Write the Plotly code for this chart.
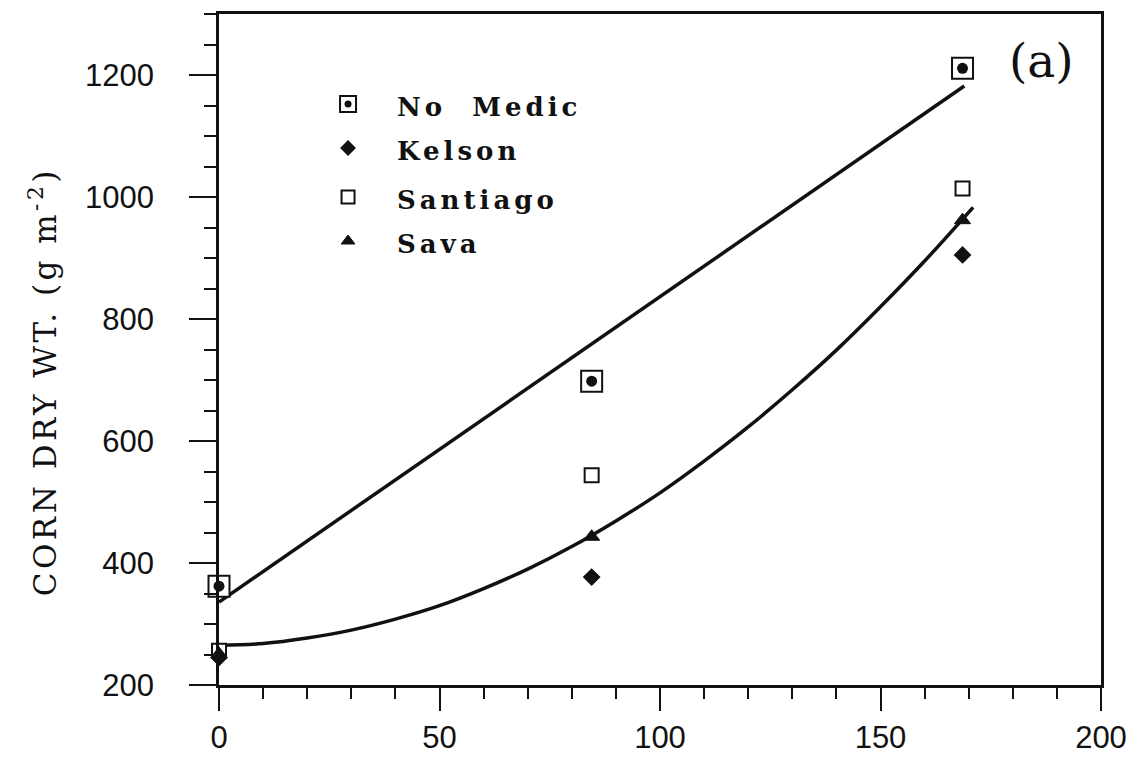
import plotly.graph_objects as go

# ---------------- data ----------------
N_RATE = [0, 84.5, 168.6]
NO_MEDIC = [362, 698, 1211]
KELSON = [245, 377, 905]
SANTIAGO = [256, 544, 1014]
SAVA = [251, 443, 962]

UPPER_FIT_X = [0, 84, 169]
UPPER_FIT_Y = [336, 756, 1182]
LOWER_FIT_X = [0, 10, 20, 30, 40, 50, 60, 70, 80, 90, 100, 110, 120, 130, 140, 150, 160, 171]
LOWER_FIT_Y = [265, 268, 277, 290, 308, 330, 358, 390, 427, 469, 515, 567, 623, 684, 749, 820, 895, 983]

SERIES_NAMES = ["No Medic", "Kelson", "Santiago", "Sava"]
X_TICKS = [0, 50, 100, 150, 200]
Y_TICKS = [200, 400, 600, 800, 1000, 1200]
Y_TITLE = "CORN DRY WT. (g m<sup>-2</sup>)"
PANEL_LABEL = "(a)"

INK = "#111111"

fig = go.Figure()

# fitted curves
fig.add_trace(go.Scatter(x=UPPER_FIT_X, y=UPPER_FIT_Y, mode="lines",
                         line=dict(color=INK, width=3.5), showlegend=False))
fig.add_trace(go.Scatter(x=LOWER_FIT_X, y=LOWER_FIT_Y, mode="lines",
                         line=dict(color=INK, width=3.5, shape="spline"), showlegend=False))

# data markers
fig.add_trace(go.Scatter(x=N_RATE, y=SANTIAGO, mode="markers", cliponaxis=False,
                         marker=dict(symbol="square", size=14, color="white",
                                     line=dict(color=INK, width=2)), showlegend=False))
fig.add_trace(go.Scatter(x=N_RATE, y=SAVA, mode="markers", cliponaxis=False,
                         marker=dict(symbol="triangle-up", size=14, color=INK,
                                     line=dict(color=INK, width=1)), showlegend=False))
fig.add_trace(go.Scatter(x=N_RATE, y=KELSON, mode="markers", cliponaxis=False,
                         marker=dict(symbol="diamond", size=11.5, color=INK,
                                     line=dict(color=INK, width=2)), showlegend=False))
fig.add_trace(go.Scatter(x=N_RATE, y=NO_MEDIC, mode="markers", cliponaxis=False,
                         marker=dict(symbol="square", size=21, color="white",
                                     line=dict(color=INK, width=2)), showlegend=False))
fig.add_trace(go.Scatter(x=N_RATE, y=NO_MEDIC, mode="markers", cliponaxis=False,
                         marker=dict(symbol="circle", size=11, color=INK,
                                     line=dict(width=0)), showlegend=False))

# ---------------- hand-built legend (overlay axes in plot-fraction units) ----------------
LEG_X = 0.1463
LEG_Y = [0.8659, 0.8003, 0.7273, 0.6617]
LEG_TEXT_X = 0.199
legend_styles = [
    dict(symbol="square", size=16, color="white", line=dict(color=INK, width=2)),
    dict(symbol="diamond", size=10, color=INK, line=dict(color=INK, width=2)),
    dict(symbol="square", size=13, color="white", line=dict(color=INK, width=2)),
    dict(symbol="triangle-up", size=12, color=INK, line=dict(color=INK, width=1)),
]
for i, st in enumerate(legend_styles):
    fig.add_trace(go.Scatter(x=[LEG_X], y=[LEG_Y[i]], xaxis="x2", yaxis="y2",
                             mode="markers", marker=st, showlegend=False, cliponaxis=False))
fig.add_trace(go.Scatter(x=[LEG_X], y=[LEG_Y[0]], xaxis="x2", yaxis="y2",
                         mode="markers", marker=dict(symbol="circle", size=7, color=INK),
                         showlegend=False))

annotations = []
for i, name in enumerate(SERIES_NAMES):
    annotations.append(dict(
        text='<span style="letter-spacing:4px">' + name.replace(" ", "&nbsp; ") + "</span>",
        xref="x2", yref="y2", x=LEG_TEXT_X, y=LEG_Y[i] - 0.004,
        xanchor="left", yanchor="middle", showarrow=False,
        font=dict(family="DejaVu Serif", size=26, color=INK, weight="bold")))
annotations.append(dict(
    text=PANEL_LABEL, xref="x2", yref="y2", x=0.932, y=0.93,
    xanchor="center", yanchor="middle", showarrow=False,
    font=dict(family="DejaVu Serif", size=47, color=INK)))
annotations.append(dict(
    text='<span style="letter-spacing:3.5px">' + Y_TITLE + "</span>",
    xref="paper", yref="paper", x=-0.2, y=0.452, textangle=-90,
    xanchor="center", yanchor="middle", showarrow=False,
    font=dict(family="DejaVu Serif", size=31, color=INK)))

axis_common = dict(showline=True, linecolor=INK, linewidth=2.5, mirror=True,
                   showgrid=False, zeroline=False, ticks="outside",
                   tickcolor=INK, tickwidth=2, automargin=False,
                   tickfont=dict(family="Liberation Sans", size=31, color=INK))

fig.update_layout(
    width=1135, height=765,
    margin=dict(l=219, r=34, t=14, b=80),
    paper_bgcolor="white", plot_bgcolor="white",
    showlegend=False,
    xaxis=dict(range=[0, 200], tickvals=X_TICKS, ticklen=23, ticklabelstandoff=0,
               minor=dict(dtick=10, ticklen=11, tickwidth=2, tickcolor=INK, ticks="outside"),
               **axis_common),
    yaxis=dict(range=[200, 1300], tickvals=Y_TICKS, ticklen=27, ticklabelstandoff=29,
               minor=dict(dtick=50, ticklen=12, tickwidth=2, tickcolor=INK, ticks="outside"),
               **axis_common),
    xaxis2=dict(overlaying="x", range=[0, 1], visible=False, fixedrange=True),
    yaxis2=dict(overlaying="y", range=[0, 1], visible=False, fixedrange=True),
    annotations=annotations,
)

fig.write_html("out.html")
